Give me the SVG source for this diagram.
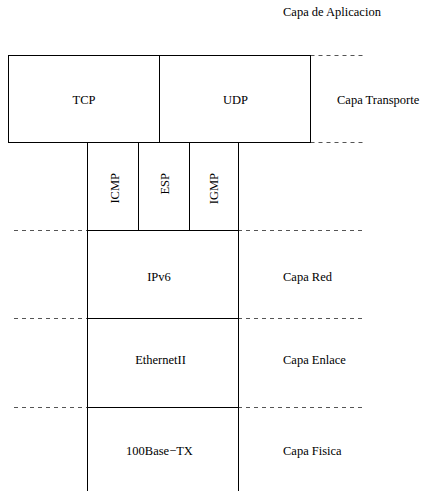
<svg xmlns="http://www.w3.org/2000/svg" width="424" height="491" viewBox="0 0 424 491">
<style>
.box{fill:#fff;stroke:#000;stroke-width:1}
.dash{fill:none;stroke:#555;stroke-width:1;stroke-dasharray:4 4}
text{font-family:'Liberation Serif','Times New Roman',Times,'DejaVu Serif',serif;font-size:12.5px;fill:#000}
.c{text-anchor:middle}
</style>
<rect width="424" height="491" fill="#fff"/>
<g id="connectors">
<line class="dash" x1="310.5" y1="55.5" x2="366" y2="55.5"/>
<line class="dash" x1="310.5" y1="142.5" x2="366" y2="142.5"/>
<line class="dash" x1="14" y1="230.5" x2="366" y2="230.5"/>
<line class="dash" x1="14" y1="318.5" x2="366" y2="318.5"/>
<line class="dash" x1="14" y1="407.5" x2="366" y2="407.5"/>
</g>
<g id="capa-aplicacion"><text x="283" y="16">Capa de Aplicacion</text></g>
<g id="tcp"><rect class="box" x="8.5" y="55.5" width="151" height="87"/><text class="c" x="84" y="104">TCP</text></g>
<g id="udp"><rect class="box" x="159.5" y="55.5" width="151" height="87"/><text class="c" x="235.5" y="104">UDP</text></g>
<g id="capa-transporte"><text x="337" y="104">Capa Transporte</text></g>
<g id="icmp"><rect class="box" x="87.5" y="142.5" width="51" height="88"/><text transform="translate(119,173) rotate(-90)" text-anchor="end">ICMP</text></g>
<g id="esp"><rect class="box" x="138.5" y="142.5" width="51" height="88"/><text transform="translate(169,173) rotate(-90)" text-anchor="end">ESP</text></g>
<g id="igmp"><rect class="box" x="189.5" y="142.5" width="49" height="88"/><text transform="translate(218,173) rotate(-90)" text-anchor="end">IGMP</text></g>
<g id="ipv6"><rect class="box" x="87.5" y="230.5" width="151" height="88"/><text class="c" x="159" y="281">IPv6</text></g>
<g id="capa-red"><text x="283" y="281">Capa Red</text></g>
<g id="ethernet"><rect class="box" x="87.5" y="318.5" width="151" height="89"/><text class="c" x="160.5" y="364">EthernetII</text></g>
<g id="capa-enlace"><text x="283" y="364">Capa Enlace</text></g>
<g id="base100"><path class="box" d="M87.5,492 V407.5 H238.5 V492"/><text class="c" x="159.5" y="455">100Base−TX</text></g>
<g id="capa-fisica"><text x="283" y="455">Capa Fisica</text></g>
</svg>
